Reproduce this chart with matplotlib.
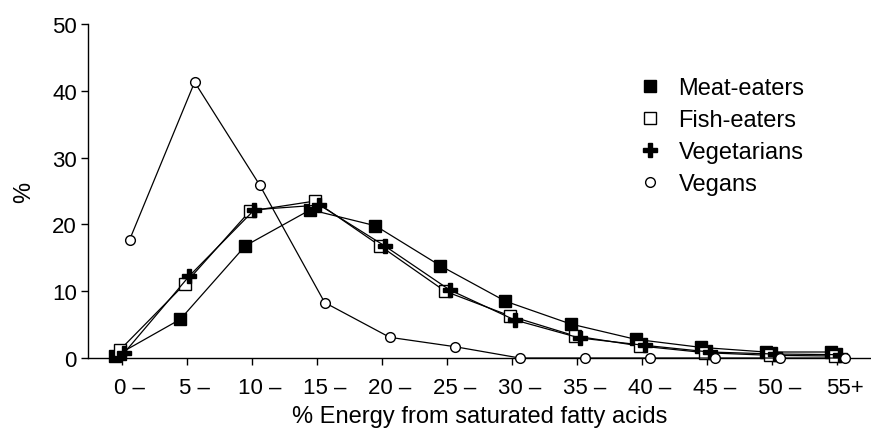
import numpy as np
import matplotlib
matplotlib.use("Agg")
import matplotlib.pyplot as plt
from matplotlib.transforms import ScaledTranslation

plt.rcParams['font.family'] = ['Liberation Sans', 'DejaVu Sans']

# Categories of % energy from saturated fatty acids
categories = ['0 \u2013', '5 \u2013', '10 \u2013', '15 \u2013', '20 \u2013', '25 \u2013',
              '30 \u2013', '35 \u2013', '40 \u2013', '45 \u2013', '50 \u2013', '55+']

# Percent of each diet group in each category
meat_eaters = [0.3, 5.8, 16.8, 22.2, 19.8, 13.8, 8.5, 5.1, 2.8, 1.6, 0.9, 0.9]
fish_eaters = [1.2, 11.1, 22.0, 23.5, 16.8, 10.0, 6.3, 3.3, 1.8, 0.8, 0.4, 0.3]
vegetarians = [0.8, 12.3, 22.2, 22.9, 16.8, 10.2, 5.7, 3.0, 1.9, 0.9, 0.6, 0.5]
vegans = [17.7, 41.3, 25.9, 8.3, 3.1, 1.7, 0.0, 0.0, 0.0, 0.0, 0.0, 0.0]

series = [
    ('Meat-eaters', meat_eaters, -0.10, dict(marker='s', markersize=9, markerfacecolor='black')),
    ('Fish-eaters', fish_eaters, -0.03, dict(marker='s', markersize=8.5, markerfacecolor='white')),
    ('Vegetarians', vegetarians, 0.04, dict(marker='P', markersize=9.5, markerfacecolor='black')),
    ('Vegans', vegans, 0.12, dict(marker='o', markersize=7, markerfacecolor='white')),
]

fig = plt.figure(figsize=(8.71, 4.31), dpi=100)
ax = fig.add_axes([0.101, 0.167, 0.899, 0.775])

x = np.arange(len(categories))
for name, vals, off, style in series:
    ax.plot(x + off, vals, color='black', linewidth=0.9,
            markeredgecolor='black', markeredgewidth=1.0, label=name,
            clip_on=False, zorder=3, **style)

ax.set_xlim(-0.52, 11.52)
ax.set_ylim(0, 50)
ax.set_yticks([0, 10, 20, 30, 40, 50])
ax.set_xticks(x)
ax.set_xticklabels(categories)

for side in ['top', 'right']:
    ax.spines[side].set_visible(False)
for side in ['left', 'bottom']:
    ax.spines[side].set_linewidth(1.0)

ax.tick_params(axis='both', direction='out', length=5, width=1.0,
               labelsize=16, colors='black')
ax.tick_params(axis='x', pad=9)
ax.tick_params(axis='y', pad=3)

# numbers sit on the ticks, the dash hangs to the right
shift = ScaledTranslation(0.08, 0, fig.dpi_scale_trans)
for lab in ax.get_xticklabels():
    lab.set_transform(lab.get_transform() + shift)

ax.set_xlabel('% Energy from saturated fatty acids', fontsize=17, labelpad=5)
ax.set_ylabel('%', fontsize=17, labelpad=12)

# legend shows markers only
leg_handles = []
for name, vals, off, style in series:
    h, = ax.plot([], [], linestyle='none', color='black',
                 markeredgecolor='black', markeredgewidth=1.0, **style)
    leg_handles.append(h)
ax.legend(leg_handles, [s[0] for s in series], loc='upper left',
          bbox_to_anchor=(0.70, 0.84), frameon=False, fontsize=17,
          handlelength=1.2, handletextpad=0.6, labelspacing=0.42,
          borderaxespad=0, borderpad=0)

fig.savefig('out.png', dpi=100)
